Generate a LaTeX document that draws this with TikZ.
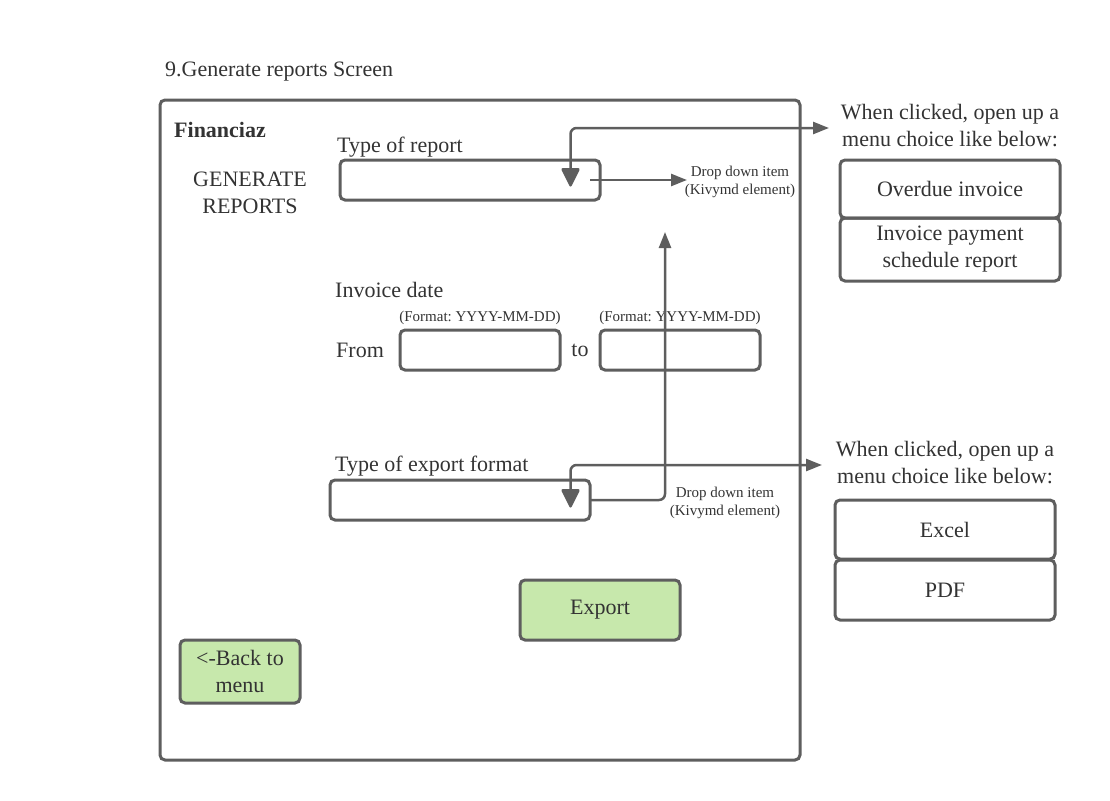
\documentclass[tikz,border=0pt]{standalone}
\usepackage{fontspec}
\setmainfont{Liberation Serif}
\usetikzlibrary{arrows.meta}
\definecolor{linegray}{HTML}{5E5E5E}
\definecolor{txt}{HTML}{333333}
\definecolor{btngreen}{HTML}{C7E8AC}
\frenchspacing
\begin{document}
\begin{tikzpicture}[x=1pt,y=-1pt,
  big/.style={font=\fontsize{22}{27}\selectfont,text=txt,inner sep=0pt,align=center,yshift=-2pt},
  small/.style={font=\fontsize{15}{18.5}\selectfont,text=txt,inner sep=0pt,align=center,yshift=-2pt},
  box/.style={draw=linegray,line width=3pt,rounded corners=5pt,inner sep=0pt,outer sep=0pt,anchor=north west},
  field/.style={box,minimum height=40pt},
  btn/.style={box,fill=btngreen,font=\fontsize{22}{27}\selectfont,text=txt,align=center},
  menuitem/.style={box,font=\fontsize{22}{27}\selectfont,text=txt,align=center,minimum width=220pt},
  conn/.style={draw=linegray,line width=2.5pt,rounded corners=6pt,-{Triangle[length=16pt,width=12pt]}},
  tri/.style={fill=linegray,rounded corners=2.5pt}
]
\useasboundingbox (0,0) rectangle (1110,800);

% title
\node[big,anchor=west] (title) at (165,70) {9.Generate reports Screen};

% frame
\node[box,minimum width=640pt,minimum height=660pt] (frame) at (160,100) {};
\node[big,anchor=west,font=\fontsize{22}{27}\selectfont\bfseries] (brand) at (174,128) {Financiaz};
\node[big] (heading) at (250,191) {GENERATE\\REPORTS};

% type of report
\node[big,anchor=west] (lblrep) at (337,145) {Type of report};
\node[field,minimum width=260pt] (rep) at (340,160) {};
\fill[tri] (560.5,168) -- (580.5,168) -- (570.5,188) -- cycle;
\coordinate (tri1) at (570.5,170);
\node[small] (dd1) at (740,180) {Drop down item\\(Kivymd element)};

% invoice date
\node[big,anchor=west] (lbldate) at (335,288) {Invoice date};
\node[small] (fmt1) at (480,316) {(Format: YYYY-MM-DD)};
\node[small] (fmt2) at (680,316) {(Format: YYYY-MM-DD)};
\node[big,anchor=west] (lblfrom) at (336,348) {From};
\node[field,minimum width=160pt] (from) at (400,330) {};
\node[big] (lblto) at (580,348) {to};
\node[field,minimum width=160pt] (to) at (600,330) {};

% export format
\node[big,anchor=west] (lblexp) at (335,464) {Type of export format};
\node[field,minimum width=260pt] (exp) at (330,480) {};
\fill[tri] (560.5,489) -- (580.5,489) -- (570.5,509) -- cycle;
\coordinate (tri2) at (570.5,491);
\node[small] (dd2) at (725,501) {Drop down item\\(Kivymd element)};

% buttons
\node[btn,minimum width=160pt,minimum height=60pt] (export) at (520,580) {Export};
\node[btn,minimum width=120pt,minimum height=63pt] (back) at (180,640) {\textless-Back to\\menu};

% right menus
\node[big] (note1) at (950,124) {When clicked, open up a\\menu choice like below:};
\node[menuitem,minimum height=58pt] (overdue) at (840,160) {Overdue invoice};
\node[menuitem,minimum height=63pt] (schedule) at (840,218) {Invoice payment\\schedule report};

\node[big] (note2) at (945,461) {When clicked, open up a\\menu choice like below:};
\node[menuitem,minimum height=59pt] (excel) at (835,500) {Excel};
\node[menuitem,minimum height=60pt] (pdf) at (835,560) {PDF};

% connectors
\coordinate (c1) at (829,128);
\draw[conn] (tri1) |- (c1);
\coordinate (dd1tip) at (687,180);
\draw[conn,rounded corners=0pt] ([xshift=-10pt]rep.east) -- (dd1tip);
\coordinate (c2) at (822,465);
\draw[conn] (tri2) |- (c2);
\coordinate (up) at (665,232);
\draw[conn] (exp.east) -| (up);
\end{tikzpicture}
\end{document}
